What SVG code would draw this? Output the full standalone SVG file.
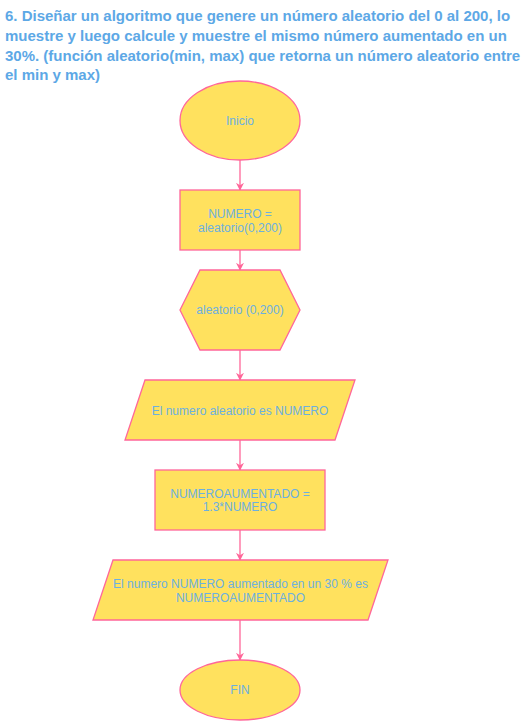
<svg xmlns="http://www.w3.org/2000/svg" width="521" height="721" viewBox="0 0 521 721">
<style>
.shape{fill:#FFE15E;stroke:#FF6699;stroke-width:1.3}
.lbl{font-family:"Liberation Sans",Arial,sans-serif;font-size:12px;fill:#6CB0E0;text-anchor:middle}
.title{font-family:"Liberation Sans",Arial,sans-serif;font-size:15px;font-weight:bold;fill:#5DA8E6}
.edge{stroke:#FF6699;stroke-width:1.3;fill:none}
</style>
<defs>
<marker id="arr" viewBox="0 0 10 10" refX="9" refY="5" markerWidth="8" markerHeight="8" markerUnits="userSpaceOnUse" orient="auto">
<path d="M0,0 L10,5 L0,10 L3,5 Z" fill="#FF6699"/>
</marker>
</defs>
<rect width="521" height="721" fill="#FFFFFF"/>
<g id="title">
<text class="title" x="5" y="21">6. Diseñar un algoritmo que genere un número aleatorio del 0 al 200, lo</text>
<text class="title" x="5" y="41">muestre y luego calcule y muestre el mismo número aumentado en un</text>
<text class="title" x="5" y="61">30%. (función aleatorio(min, max) que retorna un número aleatorio entre</text>
<text class="title" x="5" y="80">el min y max)</text>
</g>
<g id="connectors">
<line class="edge" x1="240" y1="160" x2="240" y2="190" marker-end="url(#arr)"/>
<line class="edge" x1="240" y1="250" x2="240" y2="270" marker-end="url(#arr)"/>
<line class="edge" x1="240" y1="350" x2="240" y2="380" marker-end="url(#arr)"/>
<line class="edge" x1="240" y1="440" x2="240" y2="470" marker-end="url(#arr)"/>
<line class="edge" x1="240" y1="530" x2="240" y2="560" marker-end="url(#arr)"/>
<line class="edge" x1="240" y1="620" x2="240" y2="660" marker-end="url(#arr)"/>
</g>
<g id="inicio">
<ellipse class="shape" cx="240" cy="120.5" rx="60" ry="39.5"/>
<text class="lbl" x="240" y="125">Inicio</text>
</g>
<g id="asignar">
<rect class="shape" x="180" y="190" width="120" height="60"/>
<text class="lbl" x="240" y="218">NUMERO =</text>
<text class="lbl" x="240" y="232">aleatorio(0,200)</text>
</g>
<g id="preparar">
<polygon class="shape" points="200,270 280,270 300,310 280,350 200,350 180,310"/>
<text class="lbl" x="240" y="314">aleatorio (0,200)</text>
</g>
<g id="salida1">
<polygon class="shape" points="145,380 355,380 335,440 125,440"/>
<text class="lbl" x="240" y="415">El numero aleatorio es NUMERO</text>
</g>
<g id="calcular">
<rect class="shape" x="155" y="470" width="170" height="60"/>
<text class="lbl" x="240" y="498">NUMEROAUMENTADO =</text>
<text class="lbl" x="240" y="511">1.3*NUMERO</text>
</g>
<g id="salida2">
<polygon class="shape" points="113,560 388,560 368,620 93,620"/>
<text class="lbl" x="240.5" y="588">El numero NUMERO aumentado en un 30 % es</text>
<text class="lbl" x="240.5" y="602">NUMEROAUMENTADO</text>
</g>
<g id="fin">
<ellipse class="shape" cx="240" cy="690" rx="60" ry="30"/>
<text class="lbl" x="240" y="694">FIN</text>
</g>
</svg>
